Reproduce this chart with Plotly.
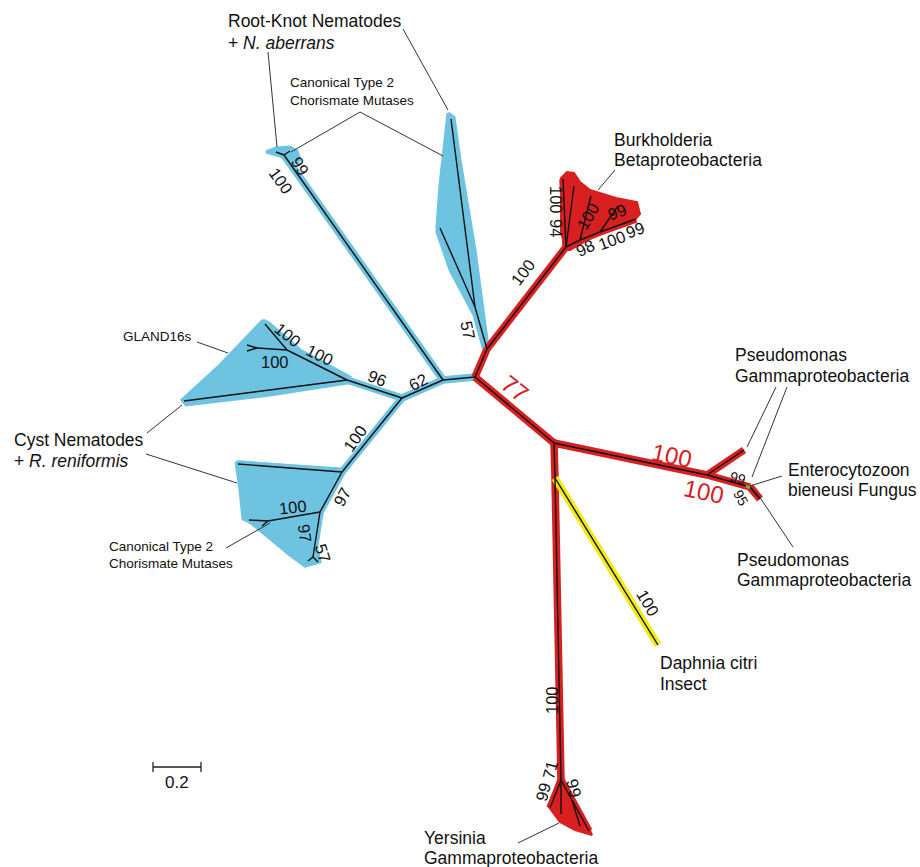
import plotly.graph_objects as go

# ---------------- DATA ----------------
# tree nodes (layout coordinates of the unrooted tree drawing)
node_names = ["R", "A", "B", "RK", "rk1", "rk2", "U", "TT", "tt1", "tt2",
              "BK", "bk1", "bk2", "BK3", "bk3", "BK4", "bk4", "bk5",
              "C", "P", "P1", "P2", "p2a", "p2b", "D", "DAP",
              "YE", "ye1", "ye2", "YE2", "ye3", "ye4",
              "G", "G2", "g1", "G3", "g3a", "g3b", "g4",
              "E", "e1", "F", "H", "h1", "h2", "K", "k1", "k2"]
node_x = [475, 443, 402, 284, 276, 290, 487, 475, 451, 440,
          566, 563, 574, 580, 591, 600, 618, 636,
          554, 707, 744, 750, 760, 756, 555, 658,
          561, 550, 561, 572, 589, 580,
          347, 287, 265, 257, 247, 247, 184,
          342, 238, 320, 268, 249, 262, 313, 308, 318]
node_y = [377, 380, 398, 155, 152, 151, 349, 307, 119, 228,
          247, 179, 186, 240, 196, 232, 206, 219,
          443, 475, 450, 487, 499, 494, 478, 645,
          780, 808, 814, 800, 831, 826,
          380, 350, 324, 348, 345, 351, 401,
          472, 464, 512, 521, 520, 526, 557, 561, 562]

red_edges = [("R", "U"), ("U", "BK"), ("BK", "bk1"), ("BK", "bk2"), ("BK", "BK3"),
             ("BK3", "bk3"), ("BK3", "BK4"), ("BK4", "bk4"), ("BK4", "bk5"),
             ("R", "C"), ("C", "P"), ("P", "P1"), ("P", "P2"), ("P2", "p2a"), ("P2", "p2b"),
             ("C", "D"), ("D", "YE"), ("YE", "ye1"), ("YE", "ye2"), ("YE", "YE2"),
             ("YE2", "ye3"), ("YE2", "ye4")]
blue_edges = [("R", "A"), ("A", "B"), ("A", "RK"), ("RK", "rk1"), ("RK", "rk2"),
              ("U", "TT"), ("TT", "tt1"), ("TT", "tt2"),
              ("B", "G"), ("G", "G2"), ("G2", "g1"), ("G2", "G3"), ("G3", "g3a"), ("G3", "g3b"),
              ("G", "g4"), ("B", "E"), ("E", "e1"), ("E", "F"), ("F", "H"), ("H", "h1"),
              ("H", "h2"), ("F", "K"), ("K", "k1"), ("K", "k2")]
yellow_edges = [("D", "DAP")]

# collapsed clade outlines
clade_blue_x = [
    [266, 276, 290, 297, 300, 296, 288, 280],
    [448, 454, 460, 475, 488, 483, 474, 450, 437, 437, 440, 443, 446],
    [263, 269, 300, 350, 348, 270, 186, 182, 220],
    [236, 343, 340, 321, 316, 320, 305, 290, 250, 243, 240],
]
clade_blue_y = [
    [152, 148, 147, 151, 160, 163, 158, 156],
    [113, 117, 160, 250, 347, 347, 315, 270, 232, 226, 185, 157, 125],
    [320, 323, 350, 377, 383, 395, 405, 400, 365],
    [462, 469, 478, 512, 545, 562, 566, 555, 522, 519, 490],
]
clade_red_x = [
    [566, 561, 561, 567, 574, 580, 590, 616, 637, 640, 634, 600, 570],
    [561, 556, 548, 552, 560, 575, 592, 588, 578, 567],
]
clade_red_y = [
    [250, 232, 178, 172, 173, 182, 190, 198, 202, 214, 221, 233, 250],
    [778, 790, 806, 811, 822, 830, 835, 826, 808, 790],
]

# bootstrap support values
boot_text = ["100", "99", "57", "100", "100", "94", "100", "99", "98", "100", "99",
             "62", "96", "100", "100", "100", "100", "97", "100", "97", "57",
             "99", "95", "100", "100", "99", "71", "99"]
boot_x = [281, 300, 468, 523, 556, 556, 588, 617, 585, 612, 635,
          418, 377, 288, 320, 275, 355, 342, 293, 305, 323,
          738, 741, 648, 552, 543, 550, 574]
boot_y = [181, 166, 330, 272, 200, 228, 216, 212, 248, 240, 230,
          382, 378, 335, 355, 362, 438, 497, 507, 533, 553,
          478, 498, 603, 700, 792, 770, 788]
boot_angle = [54, 58, 78, -53, 90, 90, -60, -20, -25, -20, -20,
              -28, 22, 38, 26, 0, -55, -61, -6, 82, 72,
              15, 60, 60, -90, -75, -75, 75]
boot_size = [16.5] * 21 + [14, 14, 16.5, 16.5, 16.5, 16.5, 16.5]

red_text = ["77", "100", "100"]
red_x = [515, 672, 704]
red_y = [388, 455, 491]
red_angle = [38, 12, 12]

# clade names
name_text = ["Root-Knot Nematodes", "+ <i>N. aberrans</i>",
             "Burkholderia", "Betaproteobacteria",
             "Pseudomonas", "Gammaproteobacteria",
             "Enterocytozoon", "bieneusi Fungus",
             "Pseudomonas", "Gammaproteobacteria",
             "Daphnia citri", "Insect",
             "Yersinia", "Gammaproteobacteria",
             "Cyst Nematodes", "+ <i>R. reniformis</i>",
             "Canonical Type 2", "Chorismate Mutases",
             "GLAND16s",
             "Canonical Type 2", "Chorismate Mutases"]
name_x = [226, 226, 612, 612, 733, 733, 786, 786, 735, 735, 658, 658,
          422, 422, 12, 12, 288, 288, 121, 107, 107]
name_y = [21, 43, 140, 160, 355, 376, 470, 490, 560, 580, 663, 684,
          838, 858, 440, 461, 82, 100, 336, 546, 563]
name_size = [17.5] * 16 + [13.5, 13.5, 13.5, 13.5, 13.5]

# leader lines (from label to clade)
lead_x0 = [268, 403, 360, 360, 615, 776, 787, 782, 793, 518, 197, 147, 146, 226]
lead_y0 = [52, 29, 112, 112, 170, 387, 387, 476, 547, 843, 342, 433, 454, 548]
lead_x1 = [277, 448, 291, 443, 598, 747, 752, 750, 757, 559, 228, 182, 237, 270]
lead_y1 = [147, 110, 152, 156, 190, 447, 477, 486, 493, 823, 353, 405, 483, 523]

# scale bar
scale_x = [153, 201]
scale_y = 767
scale_label = "0.2"

# ---------------- FIGURE ----------------
pos = {n: (x, y) for n, x, y in zip(node_names, node_x, node_y)}

BLUE = "#6DC3E0"
RED = "#D7201F"
YELLOW = "#F2EA18"
INK = "#111111"
FONT = "Liberation Sans, Arial, sans-serif"


def seg_xy(edges):
    xs, ys = [], []
    for a, b in edges:
        xs += [pos[a][0], pos[b][0], None]
        ys += [pos[a][1], pos[b][1], None]
    return xs, ys


fig = go.Figure()

for cx, cy in zip(clade_blue_x, clade_blue_y):
    fig.add_trace(go.Scatter(x=cx + [cx[0]], y=cy + [cy[0]], mode="lines", fill="toself",
                             fillcolor=BLUE, line=dict(color=BLUE, width=3),
                             hoverinfo="skip", showlegend=False))
for cx, cy in zip(clade_red_x, clade_red_y):
    fig.add_trace(go.Scatter(x=cx + [cx[0]], y=cy + [cy[0]], mode="lines", fill="toself",
                             fillcolor=RED, line=dict(color=RED, width=2),
                             hoverinfo="skip", showlegend=False))

for edges, col in [(blue_edges, BLUE), (red_edges, RED), (yellow_edges, YELLOW)]:
    xs, ys = seg_xy(edges)
    fig.add_trace(go.Scatter(x=xs, y=ys, mode="lines", line=dict(color=col, width=7.5),
                             hoverinfo="skip", showlegend=False))

xs, ys = seg_xy(red_edges + blue_edges + yellow_edges)
fig.add_trace(go.Scatter(x=xs, y=ys, mode="lines", line=dict(color=INK, width=1.4),
                         hoverinfo="skip", showlegend=False))

# tiny green Enterocytozoon tip
fig.add_trace(go.Scatter(x=[746, 750], y=[486, 488], mode="lines",
                         line=dict(color="#6BBF3A", width=3), hoverinfo="skip", showlegend=False))

# leader lines
lx, ly = [], []
for a, b, c, d in zip(lead_x0, lead_y0, lead_x1, lead_y1):
    lx += [a, c, None]
    ly += [b, d, None]
fig.add_trace(go.Scatter(x=lx, y=ly, mode="lines", line=dict(color="#333333", width=1),
                         hoverinfo="skip", showlegend=False))

# scale bar
fig.add_trace(go.Scatter(x=[scale_x[0], scale_x[0], None, scale_x[0], scale_x[1], None, scale_x[1], scale_x[1]],
                         y=[scale_y - 5, scale_y + 5, None, scale_y, scale_y, None, scale_y - 5, scale_y + 5],
                         mode="lines", line=dict(color="#222222", width=1.3),
                         hoverinfo="skip", showlegend=False))

ann = []
for t, x, y, a, s in zip(boot_text, boot_x, boot_y, boot_angle, boot_size):
    ann.append(dict(x=x, y=y, text=t, textangle=a, showarrow=False, xanchor="center",
                    yanchor="middle", font=dict(family=FONT, size=s, color=INK)))
for t, x, y, a in zip(red_text, red_x, red_y, red_angle):
    ann.append(dict(x=x, y=y, text=t, textangle=a, showarrow=False, xanchor="center",
                    yanchor="middle", font=dict(family=FONT, size=24, color=RED)))
for t, x, y, s in zip(name_text, name_x, name_y, name_size):
    ann.append(dict(x=x, y=y, text=t, showarrow=False, xanchor="left", yanchor="middle",
                    font=dict(family=FONT, size=s, color=INK)))
ann.append(dict(x=(scale_x[0] + scale_x[1]) / 2, y=scale_y + 15, text=scale_label, showarrow=False,
                xanchor="center", yanchor="middle", font=dict(family=FONT, size=17, color=INK)))

fig.update_layout(
    width=920, height=867, margin=dict(l=0, r=0, t=0, b=0),
    paper_bgcolor="white", plot_bgcolor="white",
    xaxis=dict(range=[0, 920], visible=False, fixedrange=True),
    yaxis=dict(range=[867, 0], visible=False, fixedrange=True),
    annotations=ann, showlegend=False,
)

fig.write_html("out.html")
